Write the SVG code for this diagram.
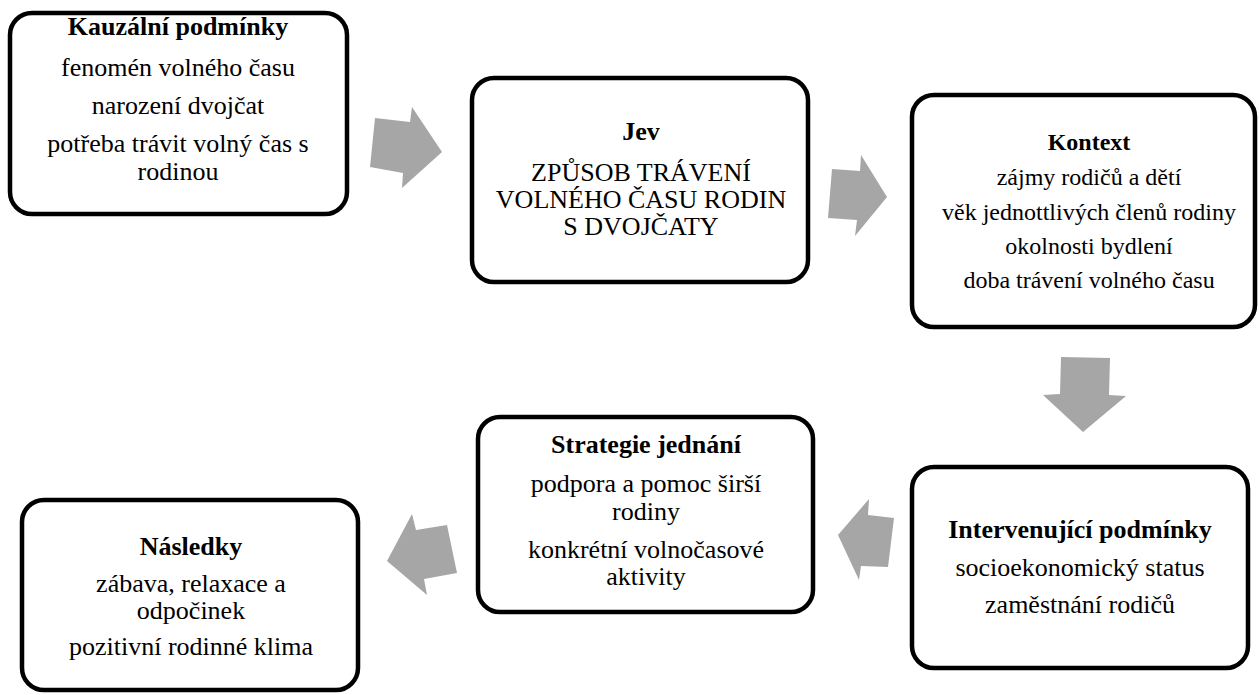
<svg xmlns="http://www.w3.org/2000/svg" width="1259" height="695" viewBox="0 0 1259 695">
<style>
.box{fill:#ffffff;stroke:#000000;stroke-width:4.5}
.arr{fill:#a6a6a6;stroke:none}
.t{font-family:"Liberation Serif","DejaVu Serif",serif;font-weight:normal;fill:#000000;text-anchor:middle;font-size:26px}
.b{font-weight:bold}
.s{font-size:24px}
</style>
<rect width="1259" height="695" fill="#ffffff"/>
<g id="connectors">
<polygon class="arr" points="375,118 410,122 412,107 442,152 402,188 403,173 370,167"/>
<polygon class="arr" points="832,169 860,171 861,155 887,197 855,236 857,220 828,218"/>
<polygon class="arr" points="1061,357 1110,358 1109,395 1126,396 1083,432 1043,395 1060,394"/>
<polygon class="arr" points="838,535 869,499 868,515 894,518 888,567 861,566 859,580"/>
<polygon class="arr" points="387,561 412,514 416,530 447,525 457,573 424,579 427,595"/>
</g>
<g id="node-kauzalni">
<rect class="box" x="10" y="13" width="337" height="201" rx="22"/>
<text class="t b" x="178" y="35">Kauzální podmínky</text>
<text class="t" x="178" y="76">fenomén volného času</text>
<text class="t" x="178" y="114">narození dvojčat</text>
<text class="t" x="178" y="152">potřeba trávit volný čas s</text>
<text class="t" x="178" y="180">rodinou</text>
</g>
<g id="node-jev">
<rect class="box" x="472" y="78" width="336" height="204" rx="22"/>
<text class="t b" x="641" y="140">Jev</text>
<text class="t" x="641" y="181">ZPŮSOB TRÁVENÍ</text>
<text class="t" x="641" y="208">VOLNÉHO ČASU RODIN</text>
<text class="t" x="641" y="235">S DVOJČATY</text>
</g>
<g id="node-kontext">
<rect class="box" x="912" y="95" width="343" height="232" rx="22"/>
<text class="t b s" x="1089" y="150">Kontext</text>
<text class="t s" x="1089" y="185">zájmy rodičů a dětí</text>
<text class="t s" x="1089" y="220">věk jednottlivých členů rodiny</text>
<text class="t s" x="1089" y="254">okolnosti bydlení</text>
<text class="t s" x="1089" y="288">doba trávení volného času</text>
</g>
<g id="node-intervenujici">
<rect class="box" x="912" y="467" width="336" height="201" rx="22"/>
<text class="t b" x="1080" y="538">Intervenující podmínky</text>
<text class="t" x="1080" y="576">socioekonomický status</text>
<text class="t" x="1080" y="613">zaměstnání rodičů</text>
</g>
<g id="node-strategie">
<rect class="box" x="478" y="417" width="335" height="195" rx="22"/>
<text class="t b" x="646" y="453">Strategie jednání</text>
<text class="t" x="646" y="492">podpora a pomoc širší</text>
<text class="t" x="646" y="520">rodiny</text>
<text class="t" x="646" y="558">konkrétní volnočasové</text>
<text class="t" x="646" y="585">aktivity</text>
</g>
<g id="node-nasledky">
<rect class="box" x="22" y="500" width="336" height="190" rx="22"/>
<text class="t b" x="191" y="555">Následky</text>
<text class="t" x="191" y="592">zábava, relaxace a</text>
<text class="t" x="191" y="619">odpočinek</text>
<text class="t" x="191" y="655">pozitivní rodinné klima</text>
</g>
</svg>
